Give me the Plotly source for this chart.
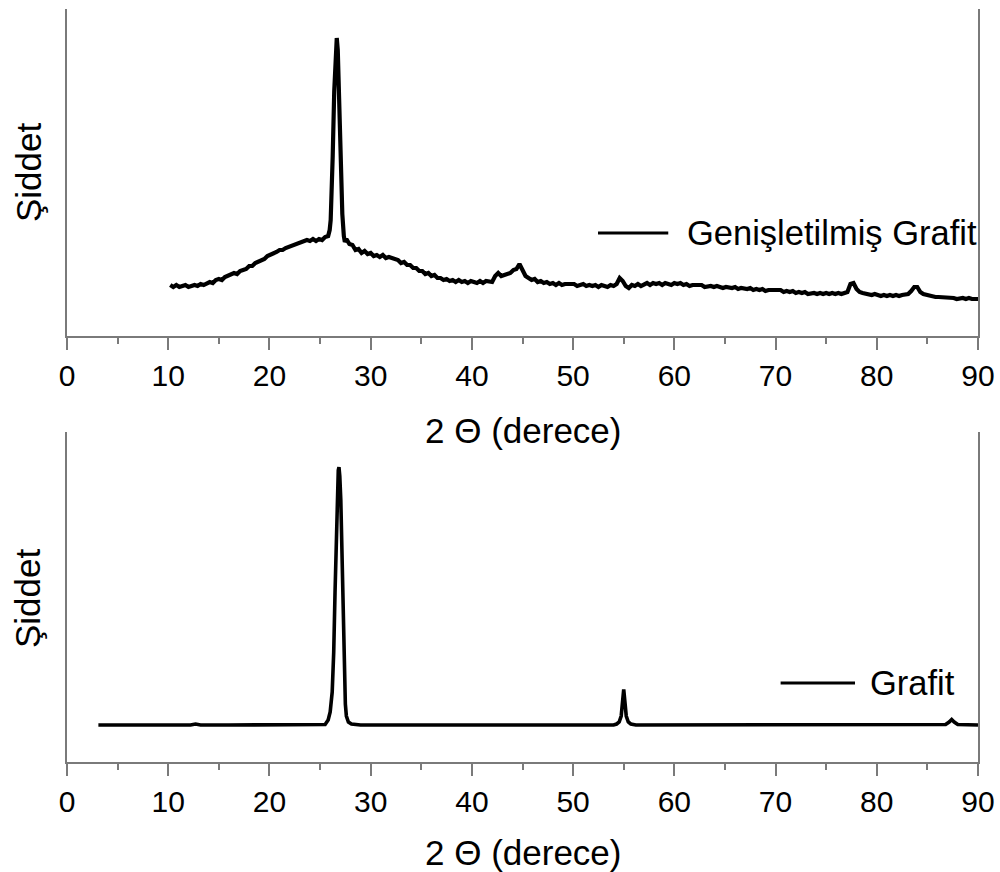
import plotly.graph_objects as go
from plotly.subplots import make_subplots

# ---- Data (intensities in arbitrary units) ----
eg_two_theta = [
    10.2, 10.5, 10.8, 11.1, 11.4, 11.7, 12.0, 12.3, 12.6, 12.9, 13.2, 13.5, 13.8, 14.1, 14.4,
    14.7, 15.0, 15.3, 15.6, 15.9, 16.2, 16.5, 16.8, 17.1, 17.4, 17.7, 18.0, 18.3, 18.6, 18.9,
    19.2, 19.5, 19.8, 20.1, 20.4, 20.7, 21.0, 21.3, 21.6, 21.9, 22.2, 22.5, 22.8, 23.1, 23.4,
    23.7, 24.0, 24.3, 24.6, 24.9, 25.2, 25.5, 25.8,
    25.95, 26.05, 26.15, 26.25, 26.4, 26.55, 26.65, 26.75, 26.9, 27.05, 27.2, 27.35, 27.45,
    27.6, 27.9, 28.2, 28.5, 28.8, 29.1, 29.4, 29.7, 30.0, 30.3, 30.6, 30.9, 31.2, 31.5, 31.8,
    32.1, 32.4, 32.7, 33.0, 33.3, 33.6, 33.9, 34.2, 34.5, 34.8, 35.1, 35.4, 35.7, 36.0, 36.3,
    36.6, 36.9, 37.2, 37.5, 37.8, 38.1, 38.4, 38.7, 39.0, 39.3, 39.6, 39.9, 40.2, 40.5, 40.8,
    41.1, 41.4, 41.7, 42.0, 42.3, 42.6, 42.9, 43.2, 43.5, 43.8, 44.1, 44.4, 44.7, 45.0, 45.3,
    45.6, 45.9, 46.2, 46.5, 46.8, 47.1, 47.4, 47.7, 48.0, 48.3, 48.6, 48.9, 49.2, 49.5, 49.8,
    50.1, 50.4, 50.7, 51.0, 51.3, 51.6, 51.9, 52.2, 52.5, 52.8, 53.1, 53.4, 53.7, 54.0, 54.3,
    54.6, 54.9, 55.2, 55.5, 55.8, 56.1, 56.4, 56.7, 57.0, 57.3, 57.6, 57.9, 58.2, 58.5, 58.8,
    59.1, 59.4, 59.7, 60.0, 60.3, 60.6, 60.9, 61.2, 61.5, 61.8, 62.1, 62.4, 62.7, 63.0, 63.3,
    63.6, 63.9, 64.2, 64.5, 64.8, 65.1, 65.4, 65.7, 66.0, 66.3, 66.6, 66.9, 67.2, 67.5, 67.8,
    68.1, 68.4, 68.7, 69.0, 69.3, 69.6, 69.9, 70.2, 70.5, 70.8, 71.1, 71.4, 71.7, 72.0, 72.3,
    72.6, 72.9, 73.2, 73.5, 73.8, 74.1, 74.4, 74.7, 75.0, 75.3, 75.6, 75.9, 76.2, 76.5, 76.8,
    77.1, 77.4, 77.7, 78.0, 78.3, 78.6, 78.9, 79.2, 79.5, 79.8, 80.1, 80.4, 80.7, 81.0, 81.3,
    81.6, 81.9, 82.2, 82.5, 82.8, 83.1, 83.4, 83.7, 84.0, 84.3, 84.6, 84.9, 85.2, 85.5, 85.8,
    86.1, 86.4, 86.7, 87.0, 87.3, 87.6, 87.9, 88.2, 88.5, 88.8, 89.1, 89.4, 89.7, 90.0]
eg_intensity = [
    51, 49, 51, 49, 50, 51, 49, 50, 51, 50, 52, 51, 53, 54, 53,
    56, 57, 56, 59, 60, 61, 63, 62, 65, 66, 67, 70, 70, 73, 74,
    76, 77, 80, 81, 82, 84, 86, 86, 88, 89, 90, 92, 92, 94, 94,
    96, 95, 97, 95, 97, 96, 99, 100,
    106, 116, 140, 180, 245, 288, 298, 286, 216, 160, 122, 100, 94,
    97, 92, 91, 86, 87, 83, 85, 82, 83, 80, 81, 79, 81, 78, 79,
    78, 76, 76, 73, 74, 71, 71, 68, 68, 65, 65, 62, 63, 60, 61,
    58, 58, 56, 57, 55, 56, 54, 56, 54, 55, 53, 55, 54, 53, 55,
    53, 55, 54, 54, 60, 63, 60, 61, 62, 63, 66, 67, 72, 66, 60,
    58, 56, 57, 54, 55, 53, 54, 52, 53, 51, 53, 51, 52, 52, 51,
    52, 50, 51, 52, 50, 51, 50, 51, 49, 51, 50, 49, 51, 50, 52,
    58, 55, 50, 48, 51, 50, 52, 50, 52, 53, 51, 53, 52, 53, 51,
    53, 52, 51, 53, 52, 53, 51, 52, 50, 51, 51, 50, 51, 49, 50,
    50, 49, 50, 49, 48, 49, 48, 48, 49, 47, 48, 47, 47, 48, 46,
    47, 46, 47, 45, 46, 46, 45, 45, 46, 44, 45, 44, 45, 43, 44,
    43, 44, 42, 43, 43, 42, 43, 42, 43, 42, 43, 42, 43, 42, 43,
    44, 52, 53, 47, 44, 43, 42, 42, 41, 42, 41, 40, 41, 40, 41,
    40, 41, 40, 41, 41, 42, 45, 49, 49, 44, 42, 41, 40, 40, 39,
    39, 39, 38, 39, 38, 38, 37, 38, 38, 37, 38, 37, 37, 37]

g_two_theta = [3.1, 5.0, 6.2, 7.5, 10.0, 12.2, 12.7, 13.2, 16.0, 20.0, 24.0, 25.5, 25.8, 26.0, 26.2,
               26.35, 26.48, 26.6, 26.7, 26.8, 26.87, 26.95, 27.05, 27.15, 27.24, 27.32, 27.4, 27.5, 27.6, 27.8,
               28.1, 29.0, 35.0, 40.0, 45.0, 50.0, 54.0, 54.3, 54.55, 54.75, 54.9, 55.0, 55.1, 55.25, 55.45,
               55.7, 56.2, 60.0, 65.0, 70.0, 75.0, 80.0, 86.8, 87.15, 87.4, 87.65, 88.0, 90.0]
g_intensity = [37, 37, 37.6, 37, 37, 37, 38, 37, 37, 37, 37, 37.5, 42, 50, 70,
               110, 170, 232, 272, 292, 295, 286, 262, 220, 175, 125, 82, 58, 46, 40,
               38, 37, 37, 37, 37, 37, 37, 38, 40, 46, 60, 72.5, 62, 46, 40,
               38, 37, 37, 37, 37, 37, 37, 37.5, 40, 42.5, 40, 37.5, 37]

x_ticks = [0, 10, 20, 30, 40, 50, 60, 70, 80, 90]
legend_names = ["Genişletilmiş Grafit", "Grafit"]
x_title = "2 Θ (derece)"
y_title = "Şiddet"

FONT = "Liberation Sans, Arial, sans-serif"
AXIS_COLOR = "#7a7a7a"

fig = make_subplots(rows=2, cols=1, vertical_spacing=0.0)

fig.add_trace(go.Scatter(x=eg_two_theta, y=eg_intensity, mode="lines", name=legend_names[0],
                         line=dict(color="black", width=4.2), showlegend=False), row=1, col=1)
fig.add_trace(go.Scatter(x=g_two_theta, y=g_intensity, mode="lines", name=legend_names[1],
                         line=dict(color="black", width=3.6), showlegend=False), row=2, col=1)

xaxis_common = dict(range=[0, 90], tickvals=x_ticks, ticks="outside", ticklen=12, tickwidth=1.5,
                    tickcolor=AXIS_COLOR, showline=True, linecolor=AXIS_COLOR, linewidth=1.5,
                    mirror=False, showgrid=False, zeroline=False, automargin=False,
                    tickfont=dict(family=FONT, size=30, color="black"),
                    minor=dict(dtick=5, ticks="outside", ticklen=6, tickwidth=1.5, tickcolor=AXIS_COLOR))
yaxis_common = dict(showticklabels=False, ticks="", showline=True, linecolor=AXIS_COLOR, linewidth=1.5,
                    mirror=True, showgrid=False, zeroline=False, automargin=False)

fig.update_xaxes(**xaxis_common)
fig.update_yaxes(**yaxis_common)

fig.update_layout(
    width=1000, height=872,
    margin=dict(l=67, r=22, t=9, b=110, autoexpand=False),
    paper_bgcolor="white", plot_bgcolor="white",
    xaxis=dict(domain=[0, 1], anchor="y"),
    yaxis=dict(domain=[0.5657, 1.0], range=[0, 327]),
    xaxis2=dict(domain=[0, 1], anchor="y2"),
    yaxis2=dict(domain=[0.0, 0.438], range=[0, 330]),
)

# Axis titles (placed in paper coordinates)
title_font = dict(family=FONT, size=35, color="black")
for ty in [0.4409, -0.1208]:
    fig.add_annotation(xref="paper", yref="paper", x=0.5, y=ty, text=x_title, showarrow=False,
                       xanchor="center", yanchor="middle", font=title_font)
for ty in [0.7835, 0.2178]:
    fig.add_annotation(xref="paper", yref="paper", x=-0.0428, y=ty, text=y_title, showarrow=False,
                       textangle=-90, xanchor="center", yanchor="middle", font=title_font)

# Legend-like labels (line sample + text) inside each panel
fig.add_shape(type="line", xref="x", yref="y", x0=52.46, x1=59.4, y0=103, y1=103,
              line=dict(color="black", width=3))
fig.add_annotation(xref="x", yref="y", x=61.1, y=103, text=legend_names[0], showarrow=False,
                   xanchor="left", yanchor="middle", font=dict(family=FONT, size=34.5, color="black"))
fig.add_shape(type="line", xref="x2", yref="y2", x0=70.5, x1=77.85, y0=79, y1=79,
              line=dict(color="black", width=3))
fig.add_annotation(xref="x2", yref="y2", x=79.1, y=79, text=legend_names[1], showarrow=False,
                   xanchor="left", yanchor="middle", font=dict(family=FONT, size=34.5, color="black"))

fig.write_html("out.html")
